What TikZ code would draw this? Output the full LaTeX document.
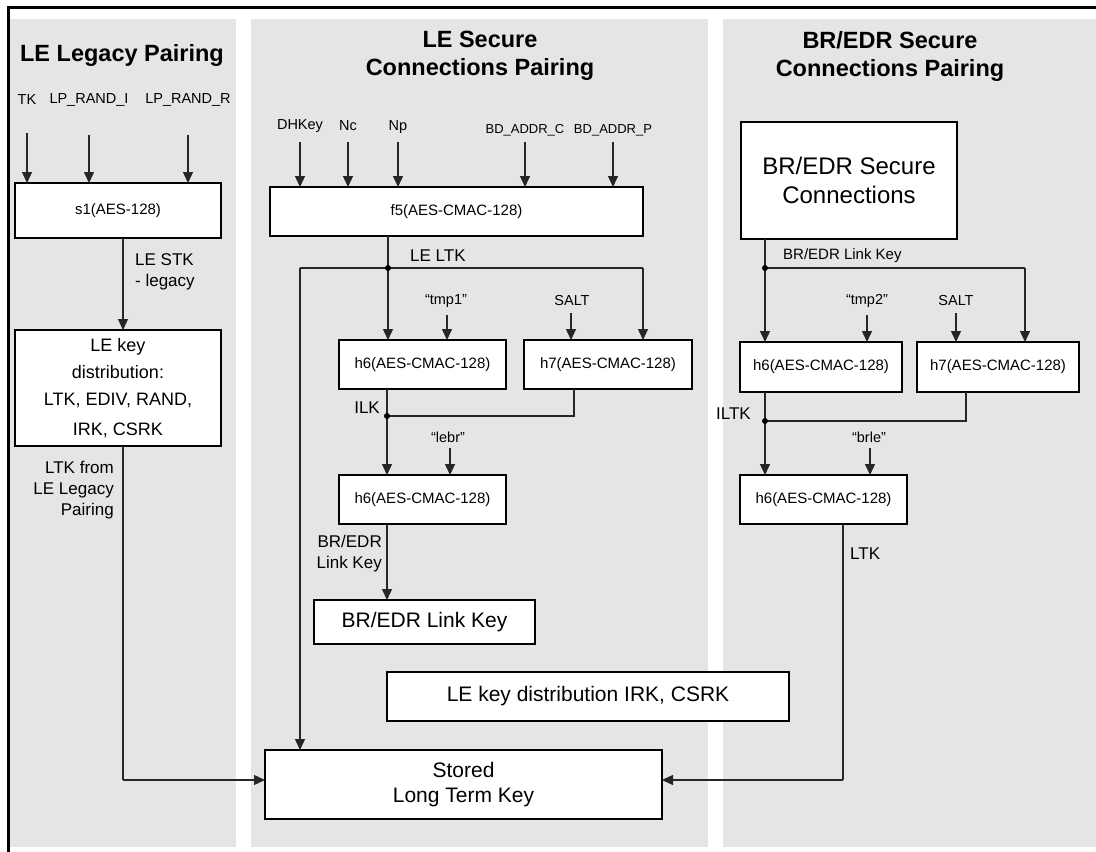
\documentclass[tikz,border=0pt]{standalone}
\usepackage{fontspec}
\setmainfont{Liberation Sans}
\usetikzlibrary{arrows.meta,calc}
\definecolor{panelgray}{RGB}{229,229,229}
\tikzset{
  box/.style={draw=black, line width=1.6pt, fill=white, inner sep=0pt, outer sep=0pt, anchor=north west, align=center},
  smallfn/.style={font=\fontsize{15}{18}\selectfont},
  bigfn/.style={font=\fontsize{21}{25}\selectfont},
  lbl/.style={font=\fontsize{17}{21}\selectfont, inner sep=0pt},
  inlbl/.style={font=\fontsize{14.5}{17}\selectfont, inner sep=0pt},
  ttl/.style={font=\fontsize{23.5}{28}\selectfont\bfseries, align=center, inner sep=0pt},
  conn/.style={line width=1.3pt, draw=black!85},
  arr/.style={conn, -{Triangle[width=10pt,length=11pt]}},
  dot/.style={fill=black},
}
\begin{document}
\begin{tikzpicture}[x=1pt,y=-1pt]
\useasboundingbox (0,0) rectangle (1096,852);
% panels
\fill[panelgray] (10,19) rectangle (236,847);
\fill[panelgray] (251,19) rectangle (708,847);
\fill[panelgray] (723,19) rectangle (1096,847);
% frame
\draw[line width=3pt] (1096,7) -- (8,7) -- (8,852);

% ===== Panel 1 =====
\node[ttl] (t1) at (122,55) {LE Legacy Pairing};
\node[inlbl] (tk) at (27,100) {TK};
\node[inlbl] (lpi) at (89,100) {LP\_RAND\_I};
\node[inlbl] (lpr) at (188,100) {LP\_RAND\_R};
\node[box, smallfn, minimum width=206pt, minimum height=55pt] (s1) at (15,183) {s1(AES-128)};
\foreach \n in {tk,lpi,lpr}
  \draw[arr] ([yshift=-28pt]\n.south) -- (\n.south |- s1.north);
\node[box, font=\fontsize{18}{27}\selectfont, minimum width=206pt, minimum height=116pt] (kd) at (15,330)
  {LE key\\distribution:\\LTK, EDIV, RAND,\\[3pt]IRK, CSRK};
\draw[arr] ([xshift=5pt]s1.south) -- ([xshift=5pt]s1.south |- kd.north);
\node[lbl, anchor=west, align=left] (stk) at (135,272) {LE STK\\- legacy};
\node[lbl, anchor=east, align=right] (ltkleg) at (114,490) {LTK from\\LE Legacy\\Pairing};

% ===== Panel 2 =====
\node[ttl] (t2) at (480,56) {LE Secure\\Connections Pairing};
\node[inlbl] (dh) at (300,126) {DHKey};
\node[inlbl] (nc) at (348,126) {Nc};
\node[inlbl] (np) at (398,127) {Np};
\node[inlbl, font=\fontsize{13}{16}\selectfont] (bdc) at (525,130) {BD\_ADDR\_C};
\node[inlbl, font=\fontsize{13}{16}\selectfont] (bdp) at (613,130) {BD\_ADDR\_P};
\node[box, smallfn, minimum width=373pt, minimum height=49pt] (f5) at (270,187) {f5(AES-CMAC-128)};
\foreach \n in {dh,nc,np,bdc,bdp}
  \draw[arr] (\n.south |- 0,142) -- (\n.south |- f5.north);

\node[box, smallfn, minimum width=167pt, minimum height=49pt] (h6a) at (339,340) {h6(AES-CMAC-128)};
\node[box, smallfn, minimum width=168pt, minimum height=49pt] (h7a) at (524,340) {h7(AES-CMAC-128)};
\node[box, smallfn, minimum width=167pt, minimum height=49pt] (h6b) at (339,475) {h6(AES-CMAC-128)};
\node[box, bigfn, minimum width=221pt, minimum height=44pt] (brlk) at (314,600) {BR/EDR Link Key};
\node[box, bigfn, minimum width=402pt, minimum height=49pt] (ledist) at (387,672) {LE key distribution IRK, CSRK};
\node[box, bigfn, minimum width=397pt, minimum height=69pt] (stored) at (265,750) {Stored\\Long Term Key};

\coordinate (J1) at (388,268);
\coordinate (L1) at (300,268);
\coordinate (R1) at (643,268);
\draw[conn] (J1 |- f5.south) -- (J1);
\draw[conn] (L1) -- (R1);
\draw[arr] (L1) -- (L1 |- stored.north);
\draw[arr] (R1) -- (R1 |- h7a.north);
\draw[arr] (J1) -- (J1 |- h6a.north);
\fill[dot] (J1) circle (3pt);
\node[lbl, anchor=west] (leltk) at (410,256) {LE LTK};

\node[inlbl] (tmp1) at (446,301) {“tmp1”};
\node[inlbl] (salt1) at (572,301) {SALT};
\draw[arr] ([xshift=1pt,yshift=-7pt]tmp1.south) -- ([xshift=1pt]tmp1.south |- h6a.north);
\draw[arr] ([xshift=-1pt,yshift=-7pt]salt1.south) -- ([xshift=-1pt]salt1.south |- h6a.north);

\coordinate (J2) at (387,416);
\coordinate (K2) at (574,416);
\draw[conn] (J2 |- h6a.south) -- (J2);
\draw[conn] (K2 |- h7a.south) -- (K2) -- (J2);
\draw[arr] (J2) -- (J2 |- h6b.north);
\fill[dot] (J2) circle (3pt);
\node[lbl, anchor=east] (ilk) at (380,408) {ILK};

\node[inlbl] (lebr) at (448,437) {“lebr”};
\draw[arr] ([xshift=2pt,yshift=-5pt]lebr.south) -- ([xshift=2pt]lebr.south |- h6b.north);

\draw[arr] (J2 |- h6b.south) -- (J2 |- brlk.north);
\node[lbl, anchor=east, align=right] (brlklbl) at (382,554) {BR/EDR\\Link Key};

% ===== Panel 3 =====
\node[ttl] (t3) at (890,56) {BR/EDR Secure\\Connections Pairing};
\node[box, font=\fontsize{24}{29}\selectfont, minimum width=216pt, minimum height=117pt] (brsc) at (741,122) {BR/EDR Secure\\Connections};

\node[box, smallfn, minimum width=162pt, minimum height=50pt] (h6c) at (740,342) {h6(AES-CMAC-128)};
\node[box, smallfn, minimum width=162pt, minimum height=50pt] (h7c) at (917,342) {h7(AES-CMAC-128)};
\node[box, smallfn, minimum width=167pt, minimum height=49pt] (h6d) at (740,475) {h6(AES-CMAC-128)};

\coordinate (J3) at (765,268);
\coordinate (R3) at (1025,268);
\draw[conn] (J3 |- brsc.south) -- (J3);
\draw[conn] (J3) -- (R3);
\draw[arr] (R3) -- (R3 |- h7c.north);
\draw[arr] (J3) -- (J3 |- h6c.north);
\fill[dot] (J3) circle (3pt);
\node[inlbl, font=\fontsize{15}{18}\selectfont, anchor=west] (brlkl) at (783,256) {BR/EDR Link Key};

\node[inlbl] (tmp2) at (867,301) {“tmp2”};
\node[inlbl] (salt2) at (956,301) {SALT};
\draw[arr] ([yshift=-7pt]tmp2.south) -- (tmp2.south |- h6c.north);
\draw[arr] ([yshift=-7pt]salt2.south) -- (salt2.south |- h7c.north);

\coordinate (J4) at (765,421);
\coordinate (K4) at (966,421);
\draw[conn] (J4 |- h6c.south) -- (J4);
\draw[conn] (K4 |- h7c.south) -- (K4) -- (J4);
\draw[arr] (J4) -- (J4 |- h6d.north);
\fill[dot] (J4) circle (3pt);
\node[lbl, anchor=east] (iltk) at (751,414) {ILTK};

\node[inlbl] (brle) at (869,437) {“brle”};
\draw[arr] ([xshift=1pt,yshift=-5pt]brle.south) -- ([xshift=1pt]brle.south |- h6d.north);

\node[lbl, anchor=west] (ltk3) at (850,554) {LTK};

% ===== connections to stored =====
\coordinate (C1) at (123,780);
\coordinate (C3) at (843,780);
\draw[conn] (C1 |- kd.south) -- (C1);
\draw[arr] (C1) -- (C1 -| stored.west);
\draw[conn] (C3 |- h6d.south) -- (C3);
\draw[arr] (C3) -- (C3 -| stored.east);
\end{tikzpicture}
\end{document}
